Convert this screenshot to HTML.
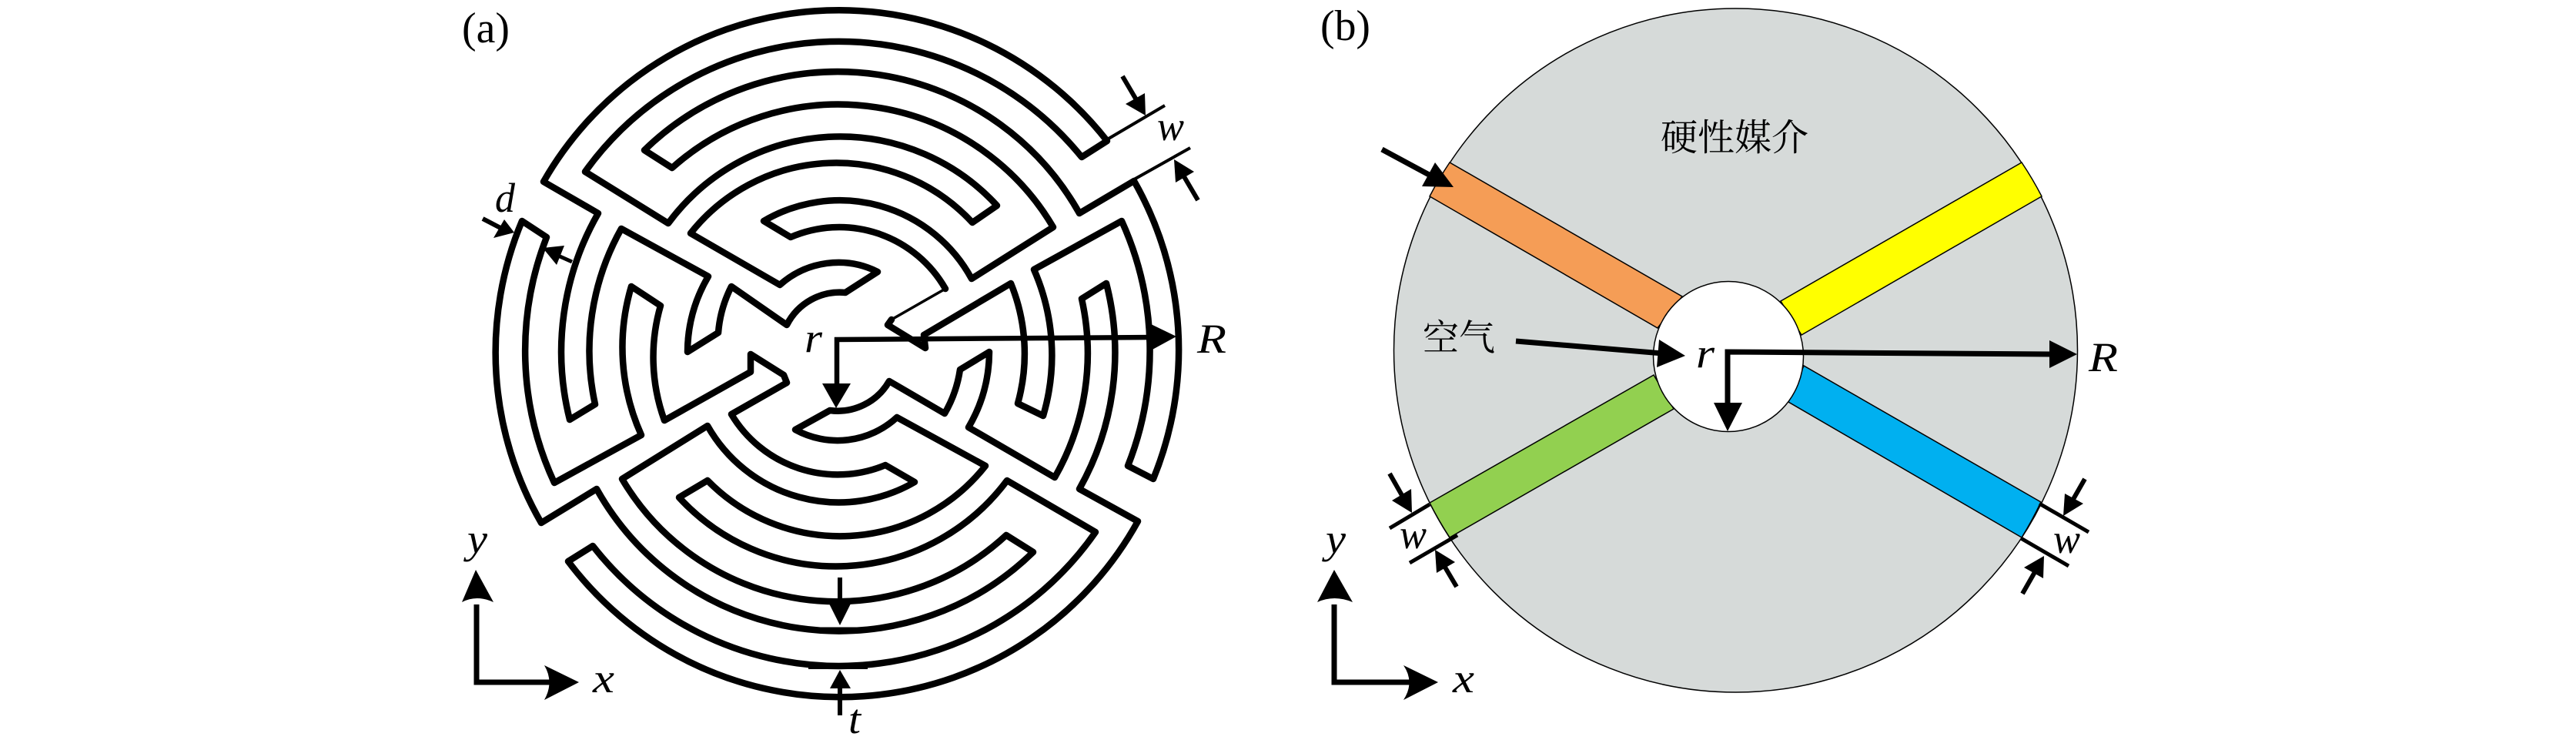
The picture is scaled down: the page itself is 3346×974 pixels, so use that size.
<!DOCTYPE html>
<html>
<head>
<meta charset="utf-8">
<style>
html,body{margin:0;padding:0;background:#fff;width:3346px;height:974px;overflow:hidden}
svg{display:block}
.m{font-family:"Liberation Serif",serif;font-style:italic;font-size:54px;fill:#000}
.n{font-family:"Liberation Serif",serif;font-size:56px;fill:#000}
.c{font-family:"Liberation Serif","Noto Serif CJK SC",serif;fill:#000}
.wall{fill:none;stroke:#000;stroke-width:8.5;stroke-linejoin:round;stroke-linecap:round}
.s{fill:none;stroke:#000}
.chan{stroke:#000;stroke-width:1.5}
</style>
</head>
<body>
<svg xmlns="http://www.w3.org/2000/svg" width="3346" height="974" viewBox="0 0 3346 974">
<rect width="3346" height="974" fill="#fff"/>

<!-- Panel (a) walls -->
<path class="wall" d="M1438 183 L1405 204 A406 406 0 0 0 760 223 L868 290 A277 277 0 0 1 1295 267 L1263 289 A241 241 0 0 0 897 303 L1013 370 A114 114 0 0 1 1140 353 L1098 380 A77 77 0 0 0 1022 422 L950 372 A159 159 0 0 0 933 432 L893 457 A195 195 0 0 1 920 359 L807 297 A324 324 0 0 0 773 525 L740 545 A361 361 0 0 1 777 277 L706 236 A442 442 0 0 1 1438 183 Z"/>
<path class="wall" d="M738 729 L770 709 A406 406 0 0 0 1423 691 L1308 624 A277 277 0 0 1 882 646 L919 624 A241 241 0 0 0 1280 605 L1165 542 A114 114 0 0 1 1033 558 L1078 533 A77 77 0 0 0 1155 495 L1227 537 A159 159 0 0 0 1247 480 L1285 457 A195 195 0 0 1 1258 555 L1370 620 A324 324 0 0 0 1405 388 L1437 368 A361 361 0 0 1 1402 635 L1478 677 A442 442 0 0 1 738 729 Z"/>
<path class="wall" d="M950 538 A161 161 0 0 0 1150 604 L1188 626 A196 196 0 0 1 919 553 L808 622 A324 324 0 0 0 1307 695 L1342 717 A361 361 0 0 1 775 635 L703 679 A442 442 0 0 1 678 287 L710 308 A406 406 0 0 0 720 627 L833 565 A277 277 0 0 1 820 372 L858 397 A241 241 0 0 0 863 546 L975 483 L975 460 L1018 487 L1022 497 Z"/>
<path class="wall" d="M1228 375 A159 159 0 0 0 1027 308 L992 287 A195 195 0 0 1 1262 362 L1368 295 A324 324 0 0 0 873 218 L837 195 A360 360 0 0 1 1402 277 L1473 235 A442 442 0 0 1 1498 622 L1465 605 A406 406 0 0 0 1457 287 L1343 350 A277 277 0 0 1 1355 540 L1322 524 A241 241 0 0 0 1313 368 L1200 435 L1202 452 L1153 422 L1158 415"/>
<line class="s" x1="1158" y1="415" x2="1228" y2="375" stroke-width="3.5"/>

<!-- Panel (a) dimension lines / arrows -->
<line class="s" x1="1084" y1="441" x2="1500" y2="438" stroke-width="6.5"/>
<line class="s" x1="1087" y1="438" x2="1087" y2="505" stroke-width="6.5"/>
<polygon points="1528,437 1495,421 1495,455"/>
<polygon points="1086,530 1068,498 1105,498"/>

<line class="s" x1="1440" y1="180" x2="1513" y2="137" stroke-width="4"/>
<line class="s" x1="1473" y1="233" x2="1546" y2="192" stroke-width="4"/>
<line class="s" x1="1458" y1="99" x2="1478" y2="133" stroke-width="6"/>
<polygon points="1488,150 1462,135 1487,121"/>
<line class="s" x1="1556" y1="260" x2="1536" y2="226" stroke-width="6"/>
<polygon points="1525,207 1527,237 1551,223"/>

<line class="s" x1="627" y1="284" x2="652" y2="297" stroke-width="6"/>
<polygon points="668,302 655,285 641,309"/>
<line class="s" x1="743" y1="340" x2="725" y2="332" stroke-width="5"/>
<polygon points="705,322 733,319 723,344"/>

<line class="s" x1="1091" y1="750" x2="1091" y2="790" stroke-width="6"/>
<polygon points="1091,812 1077,784 1105,784"/>
<line class="s" x1="1091" y1="929" x2="1091" y2="890" stroke-width="6"/>
<polygon points="1091,870 1078,894 1105,894"/>
<line class="s" x1="1050" y1="817" x2="1127" y2="817" stroke-width="5"/>
<line class="s" x1="1050" y1="866" x2="1127" y2="866" stroke-width="6"/>

<!-- Panel (a) axes -->
<path class="s" d="M619 785 L619 886 L715 886" stroke-width="7"/>
<path d="M618 740 L641 782 Q619 772 600 782 Z"/>
<path d="M752 886 L707 864 Q720 886 707 909 Z"/>

<!-- Panel (a) labels -->
<text class="n" x="600" y="55" textLength="62" lengthAdjust="spacingAndGlyphs">(a)</text>
<text class="m" x="643" y="275" textLength="26" lengthAdjust="spacingAndGlyphs">d</text>
<text class="m" x="1503" y="182" textLength="35" lengthAdjust="spacingAndGlyphs">w</text>
<text class="m" x="1555" y="458" textLength="38" lengthAdjust="spacingAndGlyphs">R</text>
<text class="m" x="1045" y="457" textLength="23" lengthAdjust="spacingAndGlyphs">r</text>
<text class="m" x="1102" y="952" textLength="16" lengthAdjust="spacingAndGlyphs">t</text>
<text class="m" x="607" y="718" textLength="26" lengthAdjust="spacingAndGlyphs">y</text>
<text class="m" x="770" y="899" textLength="28" lengthAdjust="spacingAndGlyphs">x</text>

<!-- Panel (b) -->
<circle cx="2254.5" cy="455" r="444" fill="#d6dad9" stroke="#000" stroke-width="1.5"/>
<path class="chan" fill="#f59d56" d="M1883 211 A444 444 0 0 0 1857 255 L2153 426 L2185 385 Z"/>
<path class="chan" fill="#ffff00" d="M2626 211 A444 444 0 0 1 2652 255 L2340 435 L2313 391 Z"/>
<path class="chan" fill="#92d050" d="M1857 653 A444 444 0 0 0 1883 698 L2174 531 L2148 487 Z"/>
<path class="chan" fill="#00b0f0" d="M2651 652 A444 444 0 0 1 2626 698 L2323 522 L2343 475 Z"/>
<circle cx="2245" cy="463" r="97.5" fill="#fff" stroke="#000" stroke-width="1.5"/>

<!-- Panel (b) arrows -->
<line class="s" x1="1795" y1="194" x2="1860" y2="229" stroke-width="7"/>
<polygon points="1888,243 1864,211 1847,242"/>
<line class="s" x1="1969" y1="443" x2="2160" y2="459" stroke-width="7"/>
<polygon points="2189,462 2155,441 2152,477"/>
<path class="s" d="M2244 530 L2244 457 L2665 460" stroke-width="7"/>
<polygon points="2698,460 2662,442 2662,478"/>
<polygon points="2244,560 2226,523 2263,523"/>

<line class="s" x1="1857" y1="655" x2="1805" y2="686" stroke-width="5"/>
<line class="s" x1="1893" y1="695" x2="1831" y2="731" stroke-width="5"/>
<line class="s" x1="1805" y1="615" x2="1822" y2="645" stroke-width="6"/>
<polygon points="1834,666 1833,635 1808,650"/>
<line class="s" x1="1892" y1="762" x2="1876" y2="735" stroke-width="6"/>
<polygon points="1864,714 1890,730 1866,744"/>

<line class="s" x1="2649" y1="654" x2="2713" y2="691" stroke-width="5"/>
<line class="s" x1="2625" y1="699" x2="2687" y2="735" stroke-width="5"/>
<line class="s" x1="2708" y1="622" x2="2692" y2="650" stroke-width="6"/>
<polygon points="2680,670 2682,641 2706,654"/>
<line class="s" x1="2627" y1="771" x2="2643" y2="743" stroke-width="6"/>
<polygon points="2655,722 2629,737 2654,751"/>

<!-- Panel (b) axes -->
<path class="s" d="M1733 785 L1733 886 L1835 886" stroke-width="7"/>
<path d="M1733 740 L1757 782 Q1733 772 1711 782 Z"/>
<path d="M1868 886 L1823 864 Q1838 886 1823 909 Z"/>

<!-- Panel (b) labels -->
<text class="n" x="1715" y="52" textLength="65" lengthAdjust="spacingAndGlyphs">(b)</text>
<text class="c" x="2157" y="195" font-size="48">硬性媒介</text>
<text class="c" x="1848" y="455" font-size="47">空气</text>
<text class="m" x="2203" y="477" textLength="24" lengthAdjust="spacingAndGlyphs">r</text>
<text class="m" x="2713" y="482" textLength="38" lengthAdjust="spacingAndGlyphs">R</text>
<text class="m" x="1818" y="712" textLength="35" lengthAdjust="spacingAndGlyphs">w</text>
<text class="m" x="2667" y="718" textLength="35" lengthAdjust="spacingAndGlyphs">w</text>
<text class="m" x="1722" y="718" textLength="26" lengthAdjust="spacingAndGlyphs">y</text>
<text class="m" x="1887" y="899" textLength="28" lengthAdjust="spacingAndGlyphs">x</text>
</svg>
</body>
</html>
